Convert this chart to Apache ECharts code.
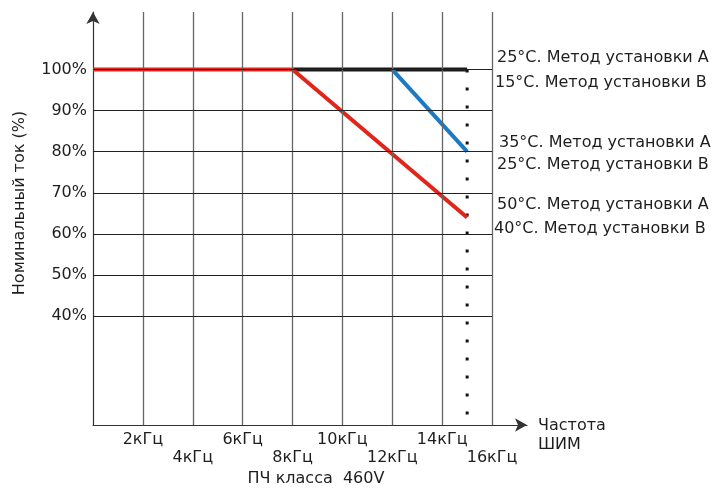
<!DOCTYPE html>
<html>
<head>
<meta charset="utf-8">
<script src="https://cdn.jsdelivr.net/npm/echarts@6/dist/echarts.min.js"></script>
<style>html,body{margin:0;padding:0;background:#fff}#c{width:713px;height:488px}</style>
</head>
<body>
<div id="c"></div>
<script>
const freqTicks = [2, 4, 6, 8, 10, 12, 14, 16];
const yTicks = [40, 50, 60, 70, 80, 90, 100];
const blackLine = [[8, 100], [15, 100]];
const redLine = [[0, 100], [8, 100], [15, 64]];
const blueLine = [[12, 100], [15, 80]];
const dottedLine = [[15, 100], [15, 13.5]];
const rightLabels = [
  '25°C. Метод установки A',
  '15°C. Метод установки B',
  '35°C. Метод установки A',
  '25°C. Метод установки B',
  '50°C. Метод установки A',
  '40°C. Метод установки B'
];
const yName = 'Номинальный ток (%)';
const xName = 'Частота\nШИМ';
const bottomTitle = 'ПЧ класса  460V';

const FONT = '"DejaVu Sans", sans-serif';
const FS = 16;
const Y_MIN = 13.5, Y_MAX = 114, X_MAX = 17.4;

const labelPos = [[497, 58], [495, 83], [499, 143], [497, 165], [497, 205], [494, 229]];

const chart = echarts.init(document.getElementById('c'), null, {renderer: 'canvas'});
chart.setOption({
  animation: false,
  backgroundColor: '#fff',
  grid: {left: 93, right: 186, top: 12, bottom: 63},
  xAxis: {
    type: 'value', min: 0, max: X_MAX, interval: 2,
    axisLine: {show: true, lineStyle: {color: '#333', width: 1.2}, symbol: ['none', 'arrow'], symbolSize: [10, 12]},
    axisTick: {show: false},
    splitLine: {show: false},
    axisLabel: {
      margin: 6, fontFamily: FONT, fontSize: FS, color: '#1e1e1e', lineHeight: 18,
      formatter: function (v) {
        if (freqTicks.indexOf(v) < 0) return '';
        return (freqTicks.indexOf(v) % 2 === 1 ? '\n' : '') + v + 'кГц';
      }
    }
  },
  yAxis: {
    type: 'value', min: Y_MIN, max: Y_MAX,
    axisLine: {show: true, lineStyle: {color: '#333', width: 1.2}, symbol: ['none', 'arrow'], symbolSize: [10, 12]},
    axisTick: {show: false},
    splitLine: {show: false},
    axisLabel: {show: false}
  },
  series: [
    {
      type: 'line', data: [], silent: true,
      markLine: {
        silent: true, symbol: 'none', animation: false,
        lineStyle: {color: '#666', width: 1.3, type: 'solid'},
        label: {show: false},
        data: freqTicks.map(v => [{coord: [v, Y_MIN]}, {coord: [v, Y_MAX]}])
      }
    },
    {
      type: 'line', data: [], silent: true,
      markLine: {
        silent: true, symbol: 'none', animation: false,
        lineStyle: {color: '#222', width: 1.2, type: 'solid'},
        label: {show: true, position: 'start', distance: 6, fontFamily: FONT, fontSize: FS, color: '#1e1e1e'},
        data: yTicks.map(v => [
          {coord: [0, v], label: {show: true, position: 'start', formatter: v + '%', fontFamily: FONT, fontSize: FS, color: '#1e1e1e'}},
          {coord: [16, v]}
        ])
      }
    },
    {
      type: 'line', data: dottedLine, showSymbol: false, silent: true,
      lineStyle: {color: '#111', width: 3, type: [3, 15], cap: 'butt'}
    },
    {
      type: 'line', data: blackLine, showSymbol: false, silent: true,
      lineStyle: {color: '#1a1a1a', width: 4}
    },
    {
      type: 'line', data: redLine, showSymbol: false, silent: true,
      lineStyle: {color: '#e1251b', width: 4}
    },
    {
      type: 'line', data: blueLine, showSymbol: false, silent: true,
      lineStyle: {color: '#1c7ac4', width: 4}
    }
  ],
  graphic: [
    {type: 'text', x: 20, y: 203, rotation: Math.PI / 2, style: {text: yName, font: FS + 'px ' + FONT, fill: '#1e1e1e', align: 'center', verticalAlign: 'middle'}},
    {type: 'text', x: 538, y: 416, style: {text: xName, font: FS + 'px ' + FONT, fill: '#1e1e1e', lineHeight: 19, align: 'left', verticalAlign: 'top'}},
    {type: 'text', x: 316, y: 479, style: {text: bottomTitle, font: FS + 'px ' + FONT, fill: '#1e1e1e', align: 'center', verticalAlign: 'middle'}}
  ].concat(rightLabels.map((t, i) => ({
    type: 'text', x: labelPos[i][0], y: labelPos[i][1],
    style: {text: t, font: FS + 'px ' + FONT, fill: '#1e1e1e', align: 'left', verticalAlign: 'middle'}
  })))
});
</script>
</body>
</html>
